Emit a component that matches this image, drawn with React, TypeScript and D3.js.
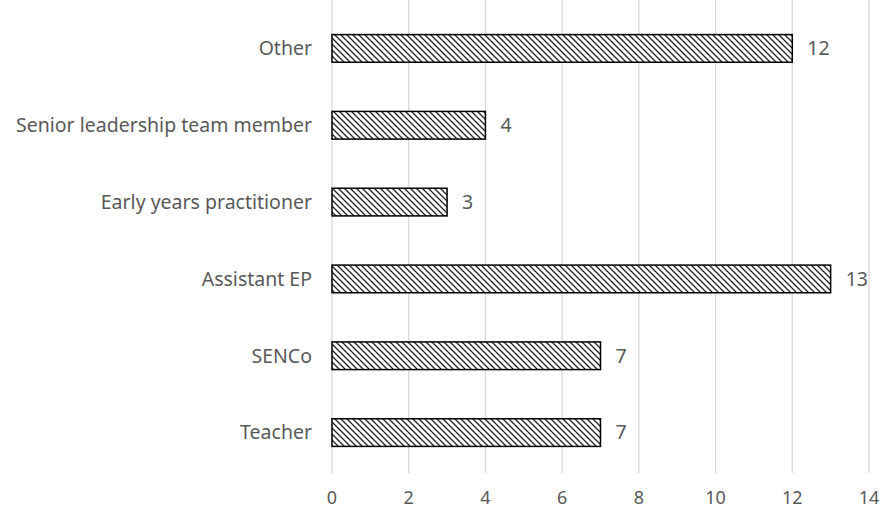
import React from "react";
import * as d3 from "d3";

const categories = [
  "Other",
  "Senior leadership team member",
  "Early years practitioner",
  "Assistant EP",
  "SENCo",
  "Teacher",
];
const values = [12, 4, 3, 13, 7, 7];
const xTicks = [0, 2, 4, 6, 8, 10, 12, 14];

const W = 883;
const H = 510;
const margin = { top: 10, right: 14, bottom: 39, left: 332 };
const FONT = "'Noto Sans', 'Open Sans', sans-serif";
const FONT_SIZE = 19.5;
const TICK_SIZE = 18;
const TEXT = "#595959";

export default function App() {
  const x = d3
    .scaleLinear()
    .domain([0, 14])
    .range([margin.left, W - margin.right]);
  const y = d3
    .scaleBand<string>()
    .domain(categories)
    .range([margin.top, H - margin.bottom])
    .paddingInner(0.64)
    .paddingOuter(0.32);

  return (
    <svg
      width={W}
      height={H}
      style={{ position: "absolute", left: 0, top: 0, background: "#fff" }}
    >
      <defs>
        <pattern
          id="hatch"
          patternUnits="userSpaceOnUse"
          width={6}
          height={6}
        >
          <rect width={6} height={6} fill="#fff" />
          <path
            d="M-1,-1 L7,7 M-7,-1 L1,7 M5,-1 L13,7"
            stroke="#222"
            strokeWidth={1.3}
          />
        </pattern>
      </defs>

      {/* vertical gridlines */}
      {xTicks.map((t) => (
        <line
          key={`g${t}`}
          x1={x(t)}
          x2={x(t)}
          y1={margin.top - 10}
          y2={H - margin.bottom + 2}
          stroke="#d9d9d9"
          strokeWidth={1.3}
        />
      ))}

      {/* bars */}
      {categories.map((c, i) => (
        <rect
          key={c}
          x={x(0)}
          y={y(c)!}
          width={x(values[i]) - x(0)}
          height={y.bandwidth()}
          fill="url(#hatch)"
          stroke="#000"
          strokeWidth={1.5}
        />
      ))}

      {/* value labels */}
      {categories.map((c, i) => (
        <text
          key={`v${c}`}
          x={x(values[i]) + 15}
          y={y(c)! + y.bandwidth() / 2}
          dy="0.35em"
          fontFamily={FONT}
          fontSize={FONT_SIZE}
          fill={TEXT}
        >
          {values[i]}
        </text>
      ))}

      {/* category labels */}
      {categories.map((c) => (
        <text
          key={`c${c}`}
          x={margin.left - 20}
          y={y(c)! + y.bandwidth() / 2}
          dy="0.35em"
          textAnchor="end"
          fontFamily={FONT}
          fontSize={FONT_SIZE}
          fill={TEXT}
        >
          {c}
        </text>
      ))}

      {/* x tick labels */}
      {xTicks.map((t) => (
        <text
          key={`t${t}`}
          x={x(t)}
          y={H - 6}
          textAnchor="middle"
          fontFamily={FONT}
          fontSize={TICK_SIZE}
          fill={TEXT}
        >
          {t}
        </text>
      ))}
    </svg>
  );
}
